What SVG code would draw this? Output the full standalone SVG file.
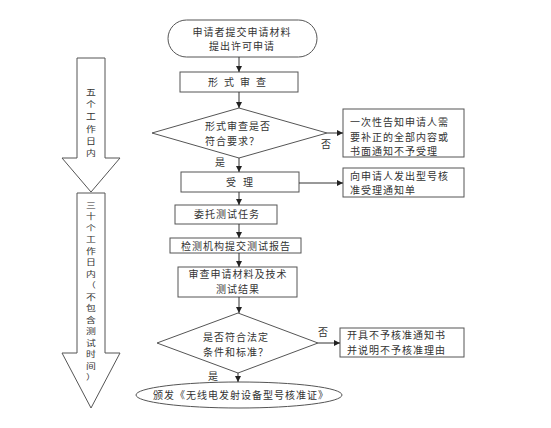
<svg xmlns="http://www.w3.org/2000/svg" width="551" height="428" viewBox="0 0 551 428">
<defs>
<marker id="ah" viewBox="0 0 8 8" refX="8" refY="4" markerWidth="6" markerHeight="6" orient="auto" markerUnits="userSpaceOnUse">
<path d="M0,0 L8,4 L0,8 z" fill="#222"/>
</marker>
<style>
.s{fill:#fff;stroke:#555;stroke-width:1}
.t{font-family:"Noto Sans CJK SC","Noto Sans",sans-serif;font-size:10px;letter-spacing:1px;fill:#333}
.m{text-anchor:middle}
.vt{font-family:"Noto Sans CJK SC","Noto Sans",sans-serif;font-size:7.9px;fill:#333;text-anchor:middle}
.c{stroke:#333;stroke-width:1;fill:none;marker-end:url(#ah)}
</style>
</defs>
<rect width="551" height="428" fill="#fff"/>

<g id="time1">
<polygon class="s" points="77,58 105,58 105,158 120,158 91,192 62,158 77,158"/>
<text class="vt" transform="translate(91,95) scale(1.25,1.05)">五</text>
<text class="vt" transform="translate(91,107.2) scale(1.25,1.05)">个</text>
<text class="vt" transform="translate(91,119.4) scale(1.25,1.05)">工</text>
<text class="vt" transform="translate(91,131.6) scale(1.25,1.05)">作</text>
<text class="vt" transform="translate(91,143.8) scale(1.25,1.05)">日</text>
<text class="vt" transform="translate(91,156) scale(1.25,1.05)">内</text>
</g>
<g id="time2">
<polygon class="s" points="77,193 105,193 105,353 120,353 91,408 62,353 77,353"/>
<text class="vt" transform="translate(91,208) scale(1.25,1)">三</text>
<text class="vt" transform="translate(91,219.47) scale(1.25,1)">十</text>
<text class="vt" transform="translate(91,230.94) scale(1.25,1)">个</text>
<text class="vt" transform="translate(91,242.41) scale(1.25,1)">工</text>
<text class="vt" transform="translate(91,253.88) scale(1.25,1)">作</text>
<text class="vt" transform="translate(91,265.35) scale(1.25,1)">日</text>
<text class="vt" transform="translate(91,276.82) scale(1.25,1)">内</text>
<text class="vt" transform="translate(91,288.29) scale(1.25,1)">（</text>
<text class="vt" transform="translate(91,299.76) scale(1.25,1)">不</text>
<text class="vt" transform="translate(91,311.23) scale(1.25,1)">包</text>
<text class="vt" transform="translate(91,322.7) scale(1.25,1)">含</text>
<text class="vt" transform="translate(91,334.17) scale(1.25,1)">测</text>
<text class="vt" transform="translate(91,345.64) scale(1.25,1)">试</text>
<text class="vt" transform="translate(91,357.11) scale(1.25,1)">时</text>
<text class="vt" transform="translate(91,368.58) scale(1.25,1)">间</text>
<text class="vt" transform="translate(91,380.05) scale(1.25,1)">）</text>
</g>

<g id="start">
<rect class="s" x="168" y="20" width="149" height="37" rx="18.5"/>
<text class="t m" x="242" y="36">申请者提交申请材料</text>
<text class="t m" x="242" y="50">提出许可申请</text>
</g>
<g id="formal">
<rect class="s" x="180" y="72" width="118" height="20"/>
<text class="t m" x="240" y="86" style="letter-spacing:6px">形式审查</text>
</g>
<g id="dec1">
<polygon class="s" points="239,108 327,133 239,158 152,133"/>
<text class="t" x="205" y="130">形式审查是否</text>
<text class="t" x="205" y="145">符合要求？</text>
</g>
<g id="notice1">
<rect class="s" x="343" y="109" width="121" height="48"/>
<text class="t" x="350" y="126">一次性告知申请人需</text>
<text class="t" x="350" y="140.5">要补正的全部内容或</text>
<text class="t" x="350" y="155">书面通知不予受理</text>
</g>
<g id="accept">
<rect class="s" x="181" y="172" width="118" height="20"/>
<text class="t m" x="243" y="186" style="letter-spacing:7px">受理</text>
</g>
<g id="notice2">
<rect class="s" x="343" y="168" width="121" height="29"/>
<text class="t" x="350" y="180">向申请人发出型号核</text>
<text class="t" x="350" y="194">准受理通知单</text>
</g>
<g id="entrust">
<rect class="s" x="175" y="205" width="102" height="19"/>
<text class="t m" x="227" y="218">委托测试任务</text>
</g>
<g id="report">
<rect class="s" x="170" y="238" width="131" height="15"/>
<text class="t m" x="236" y="249.5">检测机构提交测试报告</text>
</g>
<g id="review">
<rect class="s" x="178" y="267" width="119" height="30"/>
<text class="t m" x="238" y="278">审查申请材料及技术</text>
<text class="t m" x="238" y="293">测试结果</text>
</g>
<g id="dec2">
<polygon class="s" points="238,313 318,343 238,373 157,343"/>
<text class="t" x="203" y="341">是否符合法定</text>
<text class="t" x="203" y="356">条件和标准？</text>
</g>
<g id="notice3">
<rect class="s" x="340" y="328" width="124" height="29"/>
<text class="t" x="347" y="339">开具不予核准通知书</text>
<text class="t" x="347" y="353.5">并说明不予核准理由</text>
</g>
<g id="end">
<rect class="s" x="136" y="382" width="206" height="26" rx="103" ry="13"/>
<text class="t m" x="241" y="399">颁发《无线电发射设备型号核准证》</text>
</g>

<g id="connectors">
<line class="c" x1="239" y1="57" x2="239" y2="72"/>
<line class="c" x1="239" y1="92" x2="239" y2="108"/>
<line class="c" x1="239" y1="158" x2="239" y2="172"/>
<line class="c" x1="327" y1="133" x2="343" y2="133"/>
<line class="c" x1="299" y1="183" x2="343" y2="183"/>
<line class="c" x1="239" y1="192" x2="239" y2="205"/>
<line class="c" x1="239" y1="224" x2="239" y2="238"/>
<line class="c" x1="239" y1="253" x2="239" y2="267"/>
<line class="c" x1="239" y1="297" x2="239" y2="313"/>
<line class="c" x1="318" y1="343" x2="340" y2="343"/>
<line class="c" x1="238" y1="373" x2="238" y2="382"/>
<text class="t" x="215" y="166">是</text>
<text class="t" x="321" y="148">否</text>
<text class="t" x="318" y="336">否</text>
<text class="t" x="208" y="380">是</text>
</g>
</svg>
